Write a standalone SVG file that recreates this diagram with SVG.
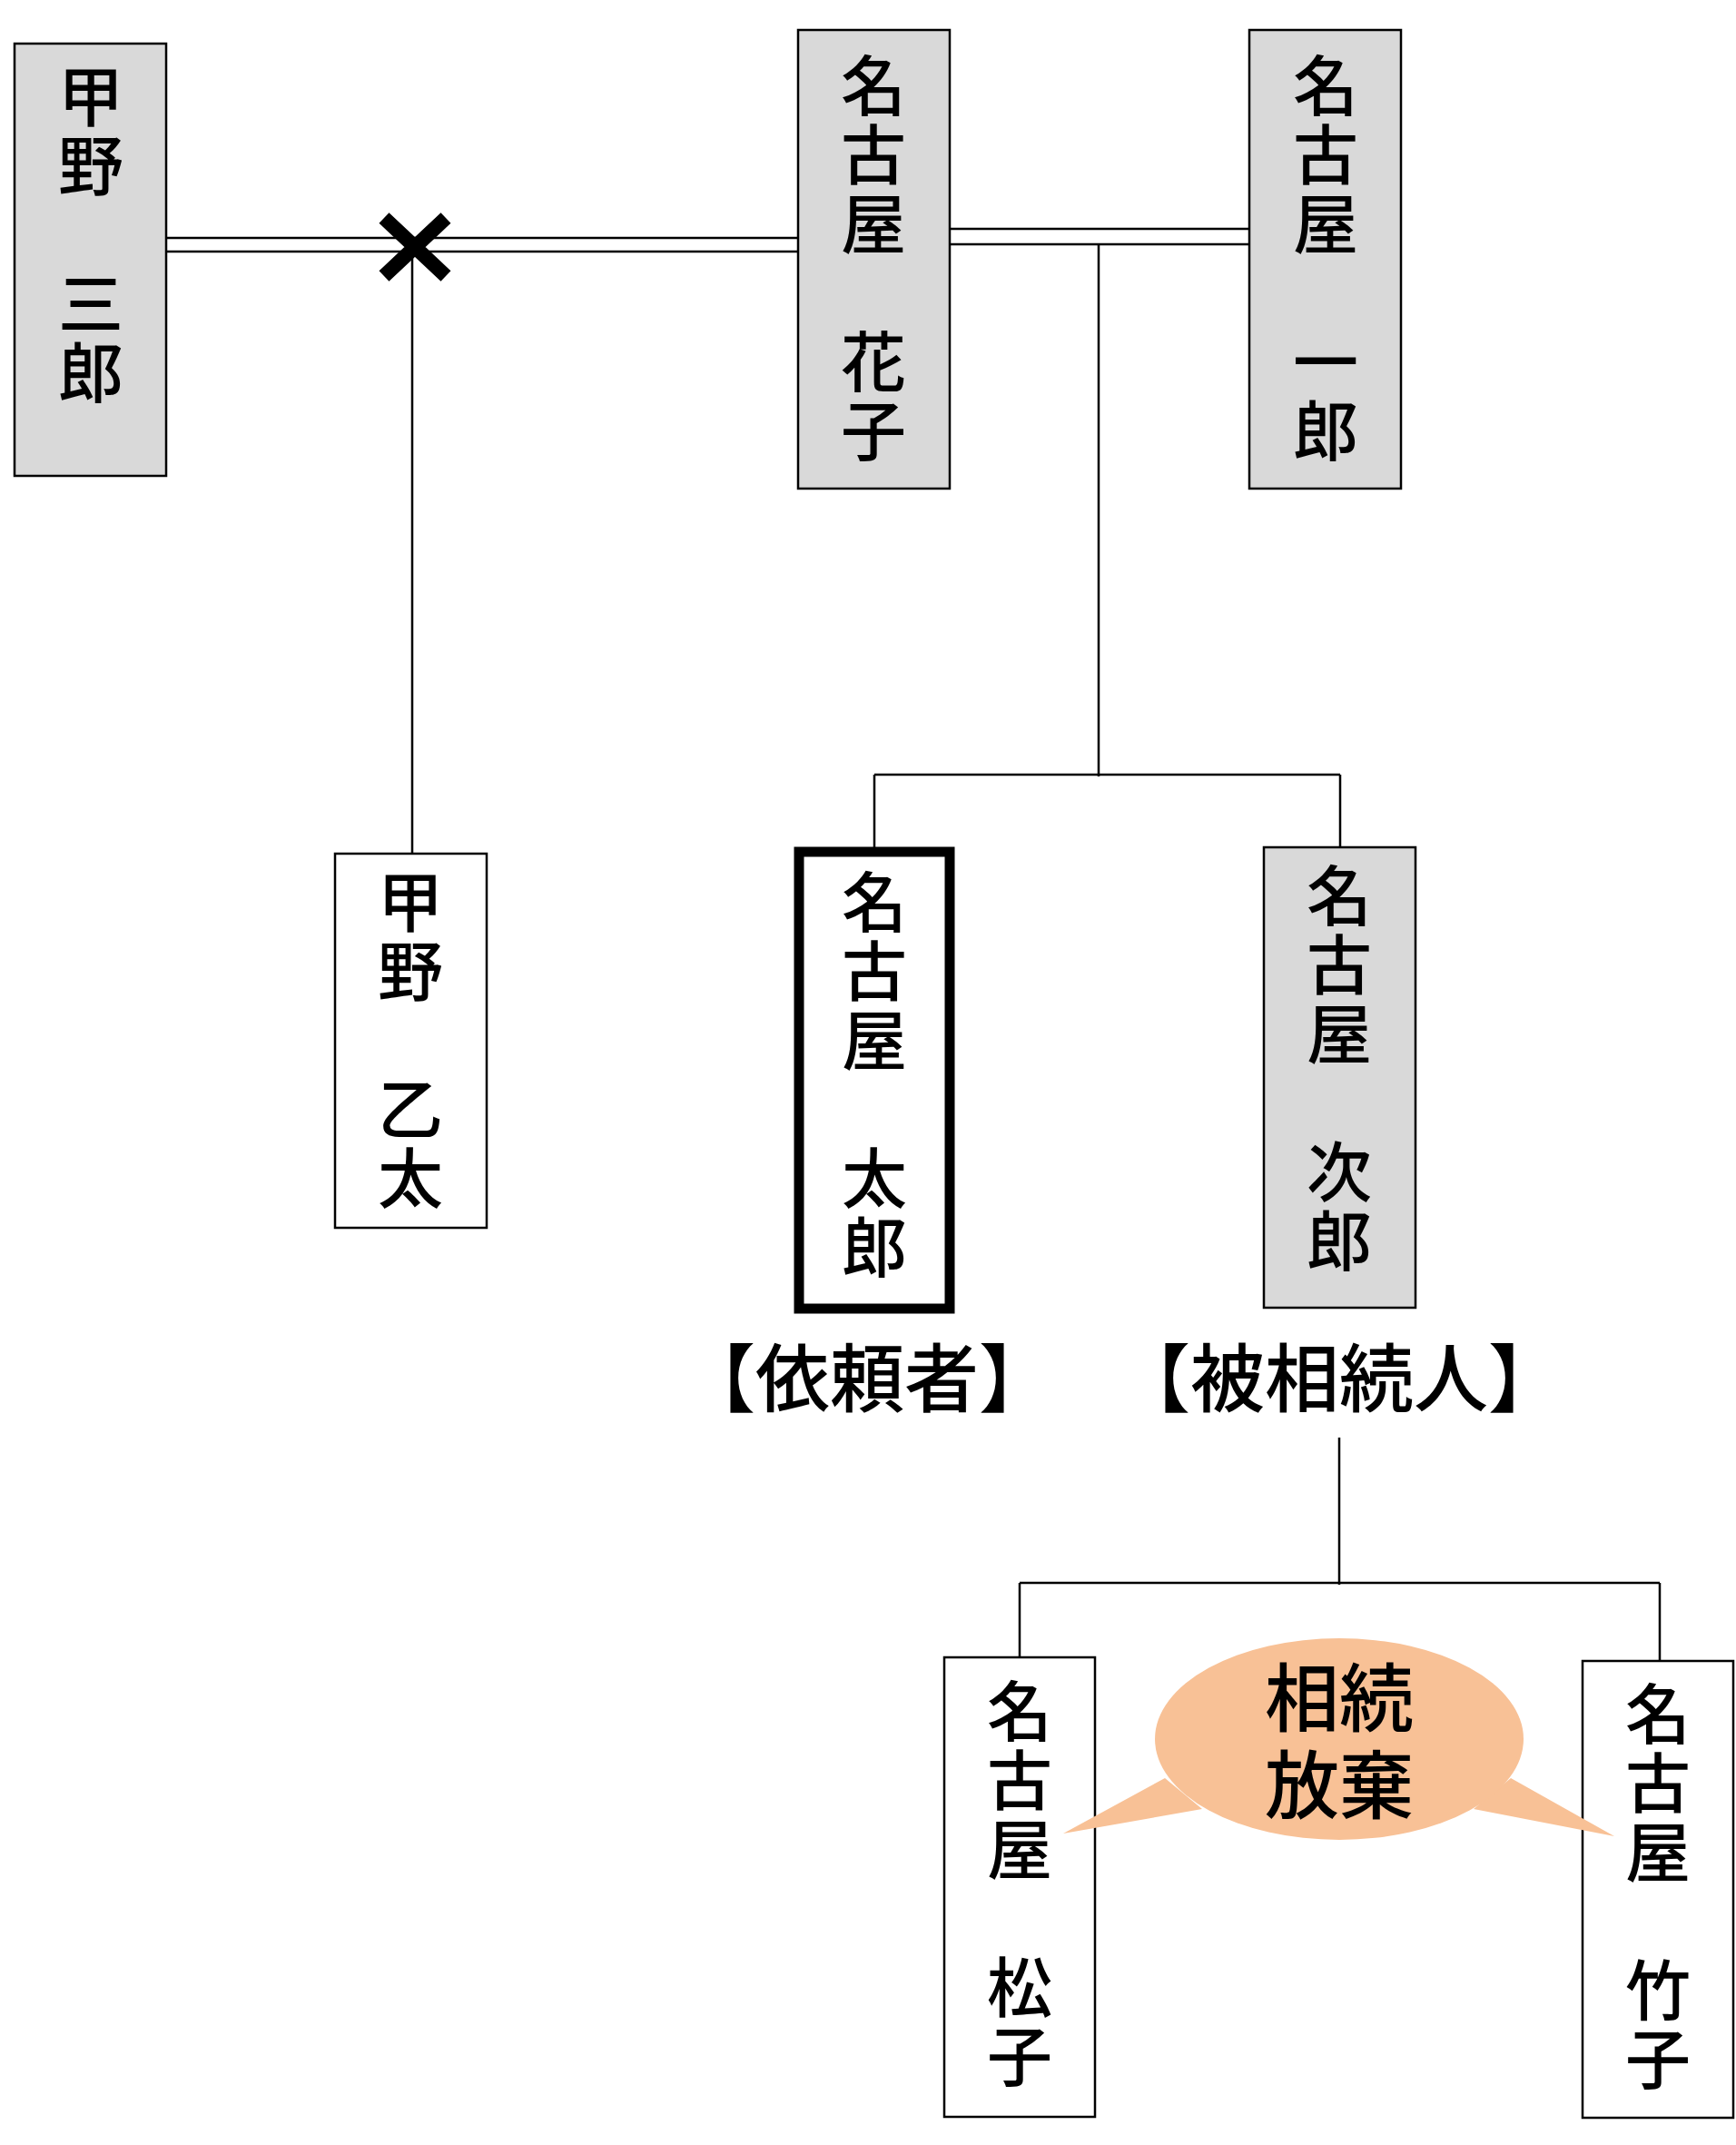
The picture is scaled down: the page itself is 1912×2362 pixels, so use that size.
<svg xmlns="http://www.w3.org/2000/svg" width="1912" height="2362" viewBox="0 0 1912 2362">
<style>
.g{fill:#d9d9d9;stroke:#000;stroke-width:2.5}
.w{fill:#fff;stroke:#000;stroke-width:2.5}
.t{font-family:"Noto Sans CJK JP","Noto Sans CJK SC",sans-serif;font-size:72px;font-weight:500;text-anchor:middle;fill:#000}
.l{font-family:"Noto Sans CJK JP","Noto Sans CJK SC",sans-serif;font-size:82px;font-weight:500;text-anchor:middle;fill:#000}
.c{fill:none;stroke:#000;stroke-width:2.5}
</style>
<rect width="1912" height="2362" fill="#fff"/>
<g id="connectors">
<path class="c" d="M183 262H879M183 277H879M1046 252H1376M1046 269H1376"/>
<path class="c" d="M454 272V940M1210 269V855M963 853H1476M963 853V935M1476 853V935"/>
<path class="c" d="M1475 1583V1745M1123 1743H1828M1123 1743V1825M1828 1743V1829"/>
<path d="M423 240L491 304M491 240L423 304" stroke="#000" stroke-width="16" fill="none"/>
</g>
<g id="n_saburo"><rect class="g" x="16" y="48" width="167" height="476"/>
<text class="t"><tspan x="100" y="133">甲</tspan><tspan x="100" y="209">野</tspan><tspan x="100" y="361">三</tspan><tspan x="100" y="437">郎</tspan></text></g>
<g id="n_hanako"><rect class="g" x="879" y="33" width="167" height="505"/>
<text class="t"><tspan x="962" y="121">名</tspan><tspan x="962" y="197">古</tspan><tspan x="962" y="273">屋</tspan><tspan x="962" y="425">花</tspan><tspan x="962" y="501">子</tspan></text></g>
<g id="n_ichiro"><rect class="g" x="1376" y="33" width="167" height="505"/>
<text class="t"><tspan x="1460" y="121">名</tspan><tspan x="1460" y="197">古</tspan><tspan x="1460" y="273">屋</tspan><tspan x="1460" y="425">一</tspan><tspan x="1460" y="501">郎</tspan></text></g>
<g id="n_otsuta"><rect class="w" x="369" y="940" width="167" height="412"/>
<text class="t"><tspan x="452" y="1020">甲</tspan><tspan x="452" y="1096">野</tspan><tspan x="452" y="1248">乙</tspan><tspan x="452" y="1324">太</tspan></text></g>
<g id="n_taro"><rect x="880" y="938" width="166" height="503" fill="#fff" stroke="#000" stroke-width="11"/>
<text class="t"><tspan x="963" y="1020">名</tspan><tspan x="963" y="1096">古</tspan><tspan x="963" y="1172">屋</tspan><tspan x="963" y="1324">太</tspan><tspan x="963" y="1400">郎</tspan></text>
<text class="l" x="955" y="1548">【依頼者】</text></g>
<g id="n_jiro"><rect class="g" x="1392" y="933" width="167" height="507"/>
<text class="t"><tspan x="1475" y="1013">名</tspan><tspan x="1475" y="1089">古</tspan><tspan x="1475" y="1165">屋</tspan><tspan x="1475" y="1317">次</tspan><tspan x="1475" y="1393">郎</tspan></text>
<text class="l" x="1475" y="1548">【被相続人】</text></g>
<g id="n_matsuko"><rect class="w" x="1040" y="1825" width="166" height="506"/>
<text class="t"><tspan x="1123" y="1911">名</tspan><tspan x="1123" y="1987">古</tspan><tspan x="1123" y="2063">屋</tspan><tspan x="1123" y="2215">松</tspan><tspan x="1123" y="2291">子</tspan></text></g>
<g id="n_takeko"><rect class="w" x="1743" y="1829" width="166" height="503"/>
<text class="t"><tspan x="1826" y="1914">名</tspan><tspan x="1826" y="1990">古</tspan><tspan x="1826" y="2066">屋</tspan><tspan x="1826" y="2218">竹</tspan><tspan x="1826" y="2294">子</tspan></text></g>
<g id="bubble">
<path d="M1283 1958L1171 2019L1324 1992Z M1664 1958L1778 2022L1623 1992Z" fill="#f8c196"/>
<ellipse cx="1475" cy="1915" rx="203" ry="111" fill="#f8c196"/>
<text class="l" x="1475" y="1900">相続</text>
<text class="l" x="1475" y="1996">放棄</text>
</g>
</svg>
